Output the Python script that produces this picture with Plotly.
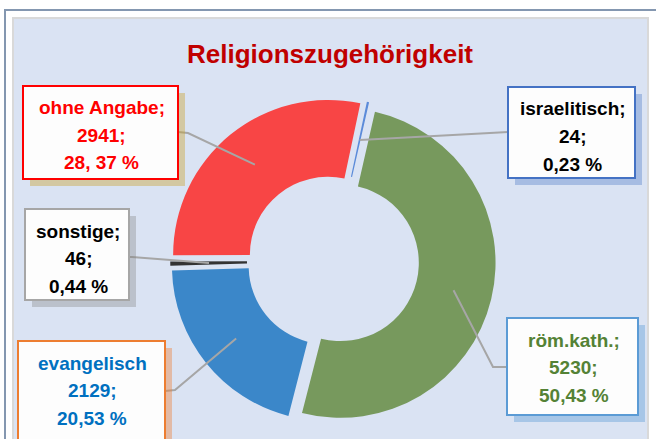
import math
import plotly.graph_objects as go

# ---- data ----
categories = ["israelitisch", "röm.kath.", "evangelisch", "sonstige", "ohne Angabe"]
values = [24, 5230, 2129, 46, 2941]
percent_labels = ["0,23 %", "50,43 %", "20,53 %", "0,44 %", "28, 37 %"]
name_labels = ["israelitisch;", "röm.kath.;", "evangelisch", "sonstige;", "ohne Angabe;"]
title_text = "Religionszugehörigkeit"

# ---- styling ----
W, H = 656, 439
slice_colors = ["#5b8bd9", "#77995d", "#3b87c9", "#333333", "#f84545"]
text_colors = ["#000000", "#548235", "#0070c0", "#000000", "#ff0000"]
border_colors = ["#4472c4", "#5b9bd5", "#ed7d31", "#a6a6a6", "#ff0000"]
shadow_colors = ["rgba(68,114,196,0.35)", "rgba(91,155,213,0.40)", "rgba(237,125,49,0.40)",
                 "rgba(128,128,128,0.35)", "rgba(200,160,40,0.40)"]
# label boxes (pixel layout): x0, y0, x1, y1
boxes = [(508, 87, 635, 178), (507, 318, 638, 415), (18, 341, 165, 452),
         (25, 209, 129, 300), (23, 86, 178, 179)]
# knee points of leader lines and attachment on box edge
knees = [(490, 133), (493, 367), (175, 390), (132, 257), (188, 133)]
edges = [(508, 132), (507, 367), (165, 391), (129, 257), (178, 132)]

cx, cy, R = 333, 261, 155
pull = 0.05
hole = 0.505
rotation = 12
font_family = "Liberation Sans, Arial, sans-serif"


def px(x):
    return x / W


def py(y):
    return 1 - y / H


half = R * (1 + pull)
fig = go.Figure(go.Pie(
    labels=categories, values=values, sort=False, direction="clockwise",
    rotation=rotation, hole=hole, pull=[pull] * len(values),
    marker=dict(colors=slice_colors, line=dict(width=0)),
    textinfo="none", hoverinfo="label+value+percent", showlegend=False,
    domain=dict(x=[px(cx - half), px(cx + half)], y=[py(cy + half), py(cy - half)]),
))

shapes = []
# outer frame
shapes.append(dict(type="rect", xref="paper", yref="paper", layer="below",
                   x0=px(5), x1=px(700), y0=py(10), y1=py(500),
                   line=dict(color="#8497b0", width=2), fillcolor="white"))
# inner plot area
shapes.append(dict(type="rect", xref="paper", yref="paper", layer="below",
                   x0=px(13), x1=px(648), y0=py(18), y1=py(500),
                   line=dict(color="#d9d9d9", width=2), fillcolor="#dae3f3"))

annotations = []
total = sum(values)
cum = 0
for i, v in enumerate(values):
    mid = rotation + (cum + v / 2) / total * 360
    cum += v
    a = math.radians(mid)
    d = 0.75 * R + pull * R
    sx, sy = cx + d * math.sin(a), cy - d * math.cos(a)
    kx, ky = knees[i]
    ex, ey = edges[i]
    path = f"M {px(sx)},{py(sy)} L {px(kx)},{py(ky)} L {px(ex)},{py(ey)}"
    shapes.append(dict(type="path", xref="paper", yref="paper", layer="above", path=path,
                       line=dict(color="#a6a6a6", width=2)))
    x0, y0, x1, y1 = boxes[i]
    shapes.append(dict(type="rect", xref="paper", yref="paper", layer="above",
                       x0=px(x0 + 7), x1=px(x1 + 7), y0=py(y0 + 7), y1=py(y1 + 7),
                       line=dict(width=0), fillcolor=shadow_colors[i]))
    shapes.append(dict(type="rect", xref="paper", yref="paper", layer="above",
                       x0=px(x0), x1=px(x1), y0=py(y0), y1=py(y1),
                       line=dict(color=border_colors[i], width=2), fillcolor="#fdfdfd"))
    lines = [name_labels[i], f"{v};", percent_labels[i]]
    tx = (x0 + x1) / 2 + 1
    for j, t in enumerate(lines):
        annotations.append(dict(text=t, x=px(tx), y=py(y0 + 22 + 27.5 * j), xref="paper", yref="paper",
                                xanchor="center", yanchor="middle", showarrow=False,
                                font=dict(family=font_family, size=19, color=text_colors[i], weight="bold")))

annotations.append(dict(text=title_text, x=px(330), y=py(54), xref="paper", yref="paper",
                        xanchor="center", yanchor="middle", showarrow=False,
                        font=dict(family=font_family, size=26, color="#c00000", weight="bold")))

fig.update_layout(width=W, height=H, margin=dict(l=0, r=0, t=0, b=0),
                  paper_bgcolor="white", plot_bgcolor="white",
                  shapes=shapes, annotations=annotations)
fig.write_html("out.html", config={"displayModeBar": False},
               post_script="document.body.style.margin='0';")
